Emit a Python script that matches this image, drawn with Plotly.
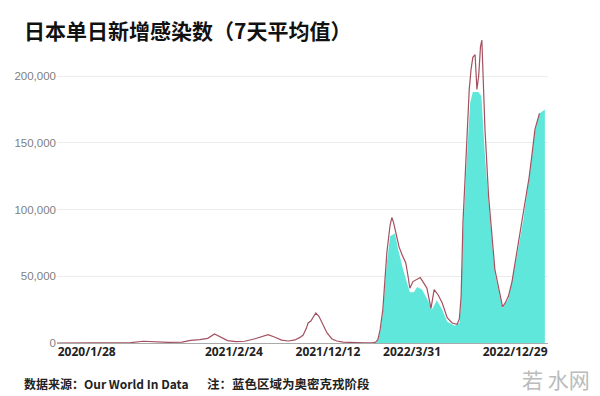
import plotly.graph_objects as go

# ---- data: 7-day average of new daily cases in Japan ----
line_dates = [
    "2020-01-28", "2020-03-01", "2020-04-01", "2020-04-15", "2020-05-01", "2020-05-20",
    "2020-06-15", "2020-07-10", "2020-08-07", "2020-09-01", "2020-10-01", "2020-11-01",
    "2020-11-20", "2020-12-10", "2020-12-28", "2021-01-12", "2021-01-25", "2021-02-10",
    "2021-03-01", "2021-03-20", "2021-04-10", "2021-04-25", "2021-05-11", "2021-05-25",
    "2021-06-10", "2021-06-25", "2021-07-10", "2021-07-20", "2021-07-28", "2021-08-04",
    "2021-08-08", "2021-08-14", "2021-08-19", "2021-08-25", "2021-09-01", "2021-09-08",
    "2021-09-19", "2021-09-30", "2021-10-11", "2021-10-25", "2021-11-15", "2021-12-10",
    "2021-12-30", "2022-01-05", "2022-01-10", "2022-01-15", "2022-01-21", "2022-01-30",
    "2022-02-06", "2022-02-10", "2022-02-14", "2022-02-19", "2022-02-26", "2022-03-05",
    "2022-03-13", "2022-03-18", "2022-03-22", "2022-03-29", "2022-04-07", "2022-04-14",
    "2022-04-20", "2022-04-29", "2022-05-08", "2022-05-15", "2022-05-24", "2022-06-02",
    "2022-06-13", "2022-06-24", "2022-07-05", "2022-07-10", "2022-07-14", "2022-07-18",
    "2022-07-23", "2022-07-27", "2022-08-01", "2022-08-05", "2022-08-09", "2022-08-14",
    "2022-08-18", "2022-08-22", "2022-08-26", "2022-08-29", "2022-09-01", "2022-09-05",
    "2022-09-13", "2022-09-20", "2022-09-27", "2022-10-08", "2022-10-14", "2022-10-20",
    "2022-10-27", "2022-11-04", "2022-11-11", "2022-11-20", "2022-11-29", "2022-12-07",
    "2022-12-12", "2022-12-18", "2022-12-25", "2023-01-04",
]
line_values = [
    0, 10, 250, 500, 250, 30,
    50, 300, 1300, 700, 500, 700,
    2000, 2600, 3500, 6800, 4500, 1800,
    1000, 1300, 3000, 4800, 6300, 4500,
    2200, 1500, 2300, 4000, 6000, 11000,
    15000, 16500, 19500, 22500, 20000, 15000,
    7500, 3000, 1500, 600, 250, 150,
    200, 600, 2500, 10000, 25000, 68000,
    88000, 94000, 90000, 82000, 72000, 66000,
    60000, 50000, 41000, 46000, 48000, 49000,
    46000, 41000, 26000, 40000, 36000, 30000,
    19000, 15000, 14000, 18000, 35000, 90000,
    125000, 152000, 190000, 205000, 214000, 216000,
    190000, 200000, 222000, 227000, 195000, 160000,
    110000, 80000, 55000, 37000, 27000, 30000,
    35000, 46000, 60000, 78000, 95000, 112000,
    124000, 140000, 160000, 172000,
]

# teal area: Omicron period
omicron_dates = [
    "2022-01-05", "2022-01-10", "2022-01-15", "2022-01-21", "2022-01-30", "2022-02-06",
    "2022-02-17", "2022-02-24", "2022-03-07", "2022-03-22", "2022-03-31", "2022-04-07",
    "2022-04-18", "2022-05-01", "2022-05-10", "2022-05-21", "2022-06-02", "2022-06-13",
    "2022-06-30", "2022-07-10", "2022-07-14", "2022-07-18", "2022-07-27", "2022-08-03",
    "2022-08-09", "2022-08-21", "2022-08-28", "2022-09-01", "2022-09-05", "2022-09-13",
    "2022-09-27", "2022-10-08", "2022-10-14", "2022-10-27", "2022-11-11", "2022-11-29",
    "2022-12-07", "2022-12-18", "2022-12-25", "2023-01-04", "2023-01-16",
]
omicron_values = [
    0, 1500, 8000, 22000, 60000, 80000,
    82000, 70000, 55000, 38000, 38000, 42000,
    40000, 32000, 25000, 32000, 25000, 16000,
    13000, 15000, 30000, 80000, 140000, 180000,
    188000, 188000, 185000, 160000, 140000, 105000,
    52000, 35000, 26000, 33000, 58000, 92000,
    110000, 138000, 158000, 172000, 175000,
]

y_tickvals = [0, 50000, 100000, 150000, 200000]
x_ticktext = ["2020/1/28", "2021/2/24", "2021/12/12", "2022/3/31", "2022/12/29"]
x_tickpos = ["2020-04-03", "2021-02-24", "2021-09-21", "2022-03-27", "2022-11-11"]

title_text = "日本单日新增感染数（7天平均值）"
source_text = "数据来源：Our World In Data"
note_text = "注：蓝色区域为奥密克戎阶段"
mark_text = "若 水网"

W, H = 600, 396
ML, MR, MT, MB = 57, 52, 36, 53
PW, PH = W - ML - MR, H - MT - MB


def px(x):
    return (x - ML) / PW


def py(y):
    return 1 - (y - MT) / PH


fig = go.Figure()
fig.add_trace(go.Scatter(
    x=omicron_dates, y=omicron_values, mode="lines", line=dict(width=0, color="#5FE7DB"),
    fill="tozeroy", fillcolor="#5FE7DB", hoverinfo="skip", showlegend=False,
))
fig.add_trace(go.Scatter(
    x=line_dates, y=line_values, mode="lines", line=dict(width=1.2, color="#A3505F"),
    showlegend=False,
))

annotations = [
    dict(text=title_text, x=px(22), y=py(30), xref="paper", yref="paper", showarrow=False,
         xanchor="left", yanchor="middle",
         font=dict(size=21, color="#111111", family="Noto Sans CJK SC", weight="bold")),
    dict(text=source_text, x=px(22), y=py(383), xref="paper", yref="paper", showarrow=False,
         xanchor="left", yanchor="middle",
         font=dict(size=12, color="#222222", family="Noto Sans CJK SC", weight="bold")),
    dict(text=note_text, x=px(205), y=py(383), xref="paper", yref="paper", showarrow=False,
         xanchor="left", yanchor="middle",
         font=dict(size=12.5, color="#222222", family="Noto Sans CJK SC", weight="bold")),
    dict(text=mark_text, x=px(592), y=py(379), xref="paper", yref="paper", showarrow=False,
         xanchor="right", yanchor="middle",
         font=dict(size=21, color="#BBBBBB", family="Noto Sans CJK SC")),
]

fig.update_layout(
    width=W, height=H,
    margin=dict(l=ML, r=MR, t=MT, b=MB, pad=0),
    paper_bgcolor="white", plot_bgcolor="white",
    font=dict(family="Noto Sans CJK SC, Liberation Sans, sans-serif"),
    xaxis=dict(
        type="date", range=["2020-01-28", "2023-01-23"],
        tickmode="array", tickvals=x_tickpos, ticktext=x_ticktext,
        showgrid=False, zeroline=False, showline=False, ticks="",
        tickfont=dict(family="Open Sans, Liberation Sans, sans-serif", size=12,
                      color="#222222", weight="bold"),
    ),
    yaxis=dict(
        range=[0, 230000], tickmode="array", tickvals=y_tickvals, tickformat=",d",
        showgrid=True, gridcolor="#ECECEC", gridwidth=1,
        zeroline=True, zerolinecolor="#AAAAAA", zerolinewidth=1,
        showline=False, ticks="",
        tickfont=dict(family="Liberation Sans, Arial, sans-serif", size=11.5, color="#808080"),
    ),
    annotations=annotations,
)

fig.write_html("out.html")
